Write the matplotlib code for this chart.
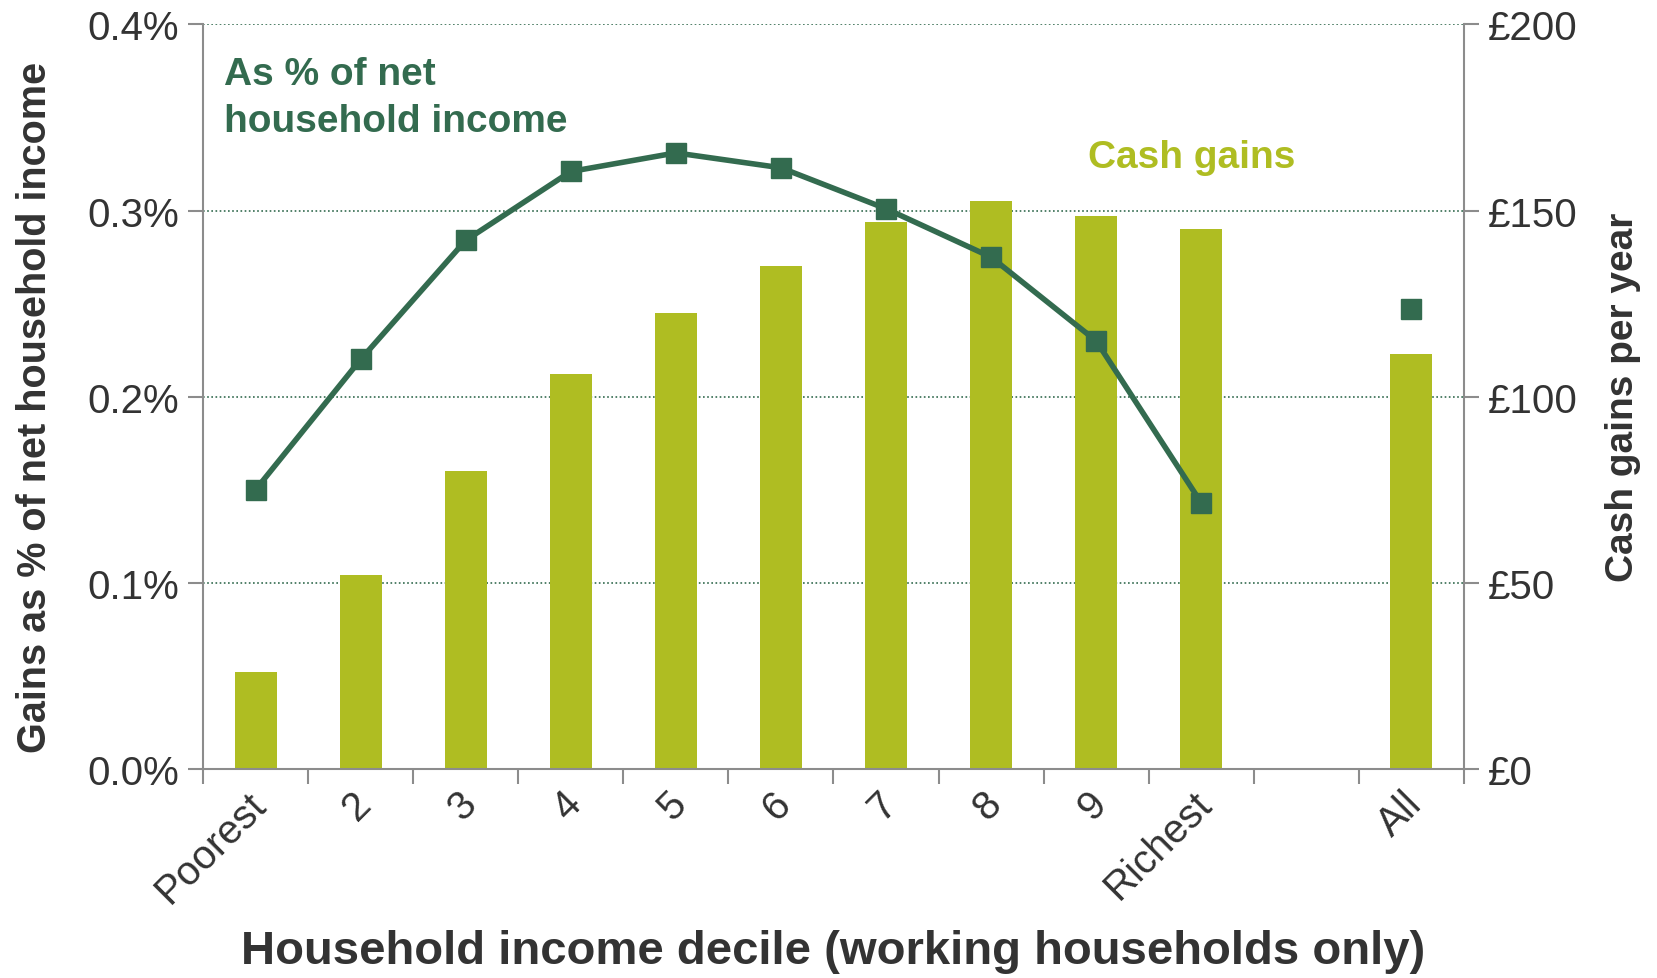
import matplotlib
matplotlib.use("Agg")
import matplotlib.pyplot as plt
import matplotlib.transforms as mtrans
import numpy as np

plt.rcParams['font.family'] = ['Liberation Sans', 'DejaVu Sans']

# categories (blank slot between Richest and All)
categories = ['Poorest', '2', '3', '4', '5', '6', '7', '8', '9', 'Richest', '', 'All']
cash_gains = [26, 52, 80, 106, 122.5, 135, 147, 152.5, 148.5, 145, None, 111.5]
pct_gains = [0.150, 0.220, 0.284, 0.321, 0.331, 0.323, 0.301, 0.275, 0.230, 0.143]
pct_all = 0.247

bar_col = '#AFBD22'
line_col = '#336B4F'
text_col = '#333333'
axis_col = '#8C8C8C'

fig = plt.figure(figsize=(16.57, 9.79), dpi=100)
ax = fig.add_axes([0.1225, 0.2135, 0.761, 0.7605])
ax2 = ax.twinx()

x = np.arange(len(categories))

# bars on the right (cash) axis
bx = [i for i, v in enumerate(cash_gains) if v is not None]
bv = [v for v in cash_gains if v is not None]
ax2.bar(bx, bv, width=0.4, color=bar_col, zorder=2)
ax2.set_ylim(0, 200)
ax2.set_yticks([0, 50, 100, 150, 200])
ax2.set_yticklabels(['£0', '£50', '£100', '£150', '£200'])
ax2.yaxis.grid(True, linestyle=(0, (1, 1.5)), color=line_col, linewidth=1.2, zorder=0)
ax2.set_axisbelow(True)

# line on the left (percent) axis, drawn above the bars
ax.set_zorder(ax2.get_zorder() + 1)
ax.patch.set_visible(False)
ax.plot(x[:10], pct_gains, color=line_col, lw=4, marker='s', markersize=14, zorder=3)
ax.plot([x[11]], [pct_all], color=line_col, marker='s', markersize=14, ls='none', zorder=3)
ax.set_ylim(0, 0.4)
ax.set_yticks([0, 0.1, 0.2, 0.3, 0.4])
ax.set_yticklabels(['0.0%', '0.1%', '0.2%', '0.3%', '0.4%'])
ax.set_xlim(-0.5, len(categories) - 0.5)

ax.set_xticks(x)
ax.set_xticklabels(categories, rotation=45, ha='right', rotation_mode='anchor')
ax.set_xticks(np.arange(-0.5, len(categories), 1), minor=True)
ax.tick_params(axis='x', which='major', length=0, pad=11, labelsize=29, colors=text_col)
ax.tick_params(axis='x', which='minor', length=11, width=1.5, color=axis_col)
shift = mtrans.ScaledTranslation(-9 / 100, 0, fig.dpi_scale_trans)
for lab in ax.get_xticklabels():
    lab.set_transform(lab.get_transform() + shift)

for a in (ax, ax2):
    for s in a.spines.values():
        s.set_visible(False)
ax.spines['left'].set_visible(True)
ax.spines['bottom'].set_visible(True)
ax2.spines['right'].set_visible(True)
for a, side in ((ax, 'left'), (ax, 'bottom'), (ax2, 'right')):
    a.spines[side].set_color(axis_col)
    a.spines[side].set_linewidth(1.5)

ax.tick_params(axis='y', length=11, width=1.5, color=axis_col, labelsize=29,
               labelcolor=text_col, pad=6)
ax2.tick_params(axis='y', length=11, width=1.5, color=axis_col, labelsize=29,
                labelcolor=text_col, pad=6)

ax.set_ylabel('Gains as % of net household income', fontsize=28.5, fontweight='bold',
              color=text_col, labelpad=24)
ax.yaxis.label.set_y(0.487)
ax2.set_ylabel('Cash gains per year', fontsize=28, fontweight='bold',
               color=text_col, labelpad=20)
ax.set_xlabel('Household income decile (working households only)', fontsize=34,
              fontweight='bold', color=text_col, labelpad=14)

ax.text(0.017, 0.958, 'As % of net\nhousehold income', transform=ax.transAxes,
        fontsize=28, fontweight='bold', color=line_col, va='top', ha='left',
        linespacing=1.4)
ax.text(0.784, 0.822, 'Cash gains', transform=ax.transAxes, fontsize=28,
        fontweight='bold', color=bar_col, va='center', ha='center')

fig.savefig('out.png', dpi=100)
